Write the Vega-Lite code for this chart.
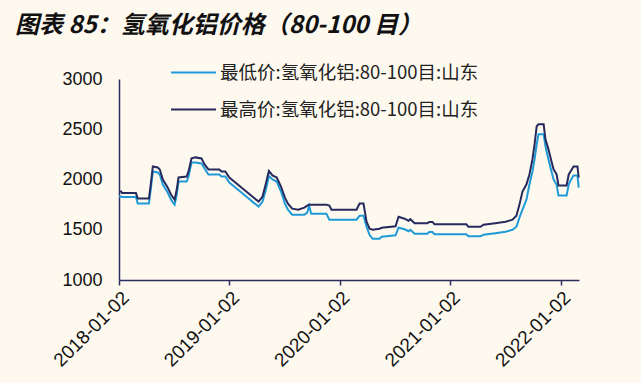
{
  "$schema": "https://vega.github.io/schema/vega-lite/v6.json",
  "width": 460,
  "height": 201,
  "autosize": {"type": "none"},
  "padding": {"left": 119, "top": 79, "right": 62, "bottom": 103},
  "background": "#FEF9EF",
  "title": {
    "text": "图表 85：氢氧化铝价格（80-100 目）",
    "font": "Noto Sans CJK SC",
    "fontSize": 24,
    "fontWeight": "bold",
    "fontStyle": "italic",
    "color": "#111111",
    "anchor": "start",
    "frame": "group",
    "baseline": "alphabetic",
    "dx": -104,
    "dy": 15,
    "offset": 7
  },
  "data": {
    "values": [
      {"d": "2018-01-02", "hi": 1880, "lo": 1830},
      {"d": "2018-01-09", "hi": 1880, "lo": 1830},
      {"d": "2018-01-12", "hi": 1865, "lo": 1825},
      {"d": "2018-02-27", "hi": 1865, "lo": 1825},
      {"d": "2018-03-05", "hi": 1810, "lo": 1760},
      {"d": "2018-04-11", "hi": 1810, "lo": 1760},
      {"d": "2018-04-17", "hi": 1950, "lo": 1900},
      {"d": "2018-04-24", "hi": 2130, "lo": 2080},
      {"d": "2018-05-10", "hi": 2120, "lo": 2070},
      {"d": "2018-05-17", "hi": 2100, "lo": 2050},
      {"d": "2018-05-27", "hi": 2000, "lo": 1950},
      {"d": "2018-06-12", "hi": 1920, "lo": 1870},
      {"d": "2018-06-25", "hi": 1840, "lo": 1790},
      {"d": "2018-07-05", "hi": 1800, "lo": 1750},
      {"d": "2018-07-12", "hi": 1900, "lo": 1850},
      {"d": "2018-07-18", "hi": 2020, "lo": 1980},
      {"d": "2018-08-14", "hi": 2030, "lo": 1980},
      {"d": "2018-08-20", "hi": 2080, "lo": 2030},
      {"d": "2018-08-30", "hi": 2210, "lo": 2170},
      {"d": "2018-09-12", "hi": 2220, "lo": 2170},
      {"d": "2018-10-02", "hi": 2210, "lo": 2160},
      {"d": "2018-10-12", "hi": 2150, "lo": 2110},
      {"d": "2018-10-25", "hi": 2100, "lo": 2050},
      {"d": "2018-11-30", "hi": 2100, "lo": 2050},
      {"d": "2018-12-07", "hi": 2080, "lo": 2030},
      {"d": "2018-12-20", "hi": 2080, "lo": 2030},
      {"d": "2019-01-02", "hi": 2020, "lo": 1970},
      {"d": "2019-01-22", "hi": 1970, "lo": 1920},
      {"d": "2019-02-11", "hi": 1920, "lo": 1870},
      {"d": "2019-03-03", "hi": 1870, "lo": 1820},
      {"d": "2019-03-23", "hi": 1820, "lo": 1770},
      {"d": "2019-04-09", "hi": 1780, "lo": 1730},
      {"d": "2019-04-22", "hi": 1830, "lo": 1780},
      {"d": "2019-05-03", "hi": 1960, "lo": 1900},
      {"d": "2019-05-13", "hi": 2085, "lo": 2035},
      {"d": "2019-05-25", "hi": 2040, "lo": 2000},
      {"d": "2019-06-08", "hi": 2020, "lo": 1980},
      {"d": "2019-06-22", "hi": 1930, "lo": 1880},
      {"d": "2019-07-05", "hi": 1820, "lo": 1760},
      {"d": "2019-07-15", "hi": 1760, "lo": 1700},
      {"d": "2019-07-29", "hi": 1710, "lo": 1650},
      {"d": "2019-08-18", "hi": 1700, "lo": 1650},
      {"d": "2019-09-07", "hi": 1720, "lo": 1650},
      {"d": "2019-09-17", "hi": 1740, "lo": 1670},
      {"d": "2019-09-23", "hi": 1750, "lo": 1740},
      {"d": "2019-09-30", "hi": 1750, "lo": 1660},
      {"d": "2019-11-19", "hi": 1750, "lo": 1660},
      {"d": "2019-11-29", "hi": 1740, "lo": 1600},
      {"d": "2019-12-06", "hi": 1700, "lo": 1600},
      {"d": "2020-02-27", "hi": 1700, "lo": 1600},
      {"d": "2020-03-08", "hi": 1760, "lo": 1640},
      {"d": "2020-03-21", "hi": 1760, "lo": 1640},
      {"d": "2020-03-31", "hi": 1580, "lo": 1530},
      {"d": "2020-04-10", "hi": 1510, "lo": 1450},
      {"d": "2020-04-20", "hi": 1500, "lo": 1410},
      {"d": "2020-05-13", "hi": 1510, "lo": 1410},
      {"d": "2020-05-20", "hi": 1520, "lo": 1430},
      {"d": "2020-07-05", "hi": 1535, "lo": 1445},
      {"d": "2020-07-15", "hi": 1630, "lo": 1520},
      {"d": "2020-08-04", "hi": 1610, "lo": 1505},
      {"d": "2020-08-17", "hi": 1590, "lo": 1485},
      {"d": "2020-08-23", "hi": 1605, "lo": 1500},
      {"d": "2020-09-06", "hi": 1565, "lo": 1460},
      {"d": "2020-10-18", "hi": 1565, "lo": 1460},
      {"d": "2020-10-25", "hi": 1578, "lo": 1478},
      {"d": "2020-11-04", "hi": 1578, "lo": 1478},
      {"d": "2020-11-11", "hi": 1555, "lo": 1455},
      {"d": "2021-02-24", "hi": 1555, "lo": 1455},
      {"d": "2021-03-03", "hi": 1530, "lo": 1435},
      {"d": "2021-04-12", "hi": 1530, "lo": 1435},
      {"d": "2021-04-22", "hi": 1550, "lo": 1450},
      {"d": "2021-05-31", "hi": 1565, "lo": 1465},
      {"d": "2021-07-04", "hi": 1580, "lo": 1480},
      {"d": "2021-07-27", "hi": 1600, "lo": 1500},
      {"d": "2021-08-09", "hi": 1640, "lo": 1530},
      {"d": "2021-08-19", "hi": 1750, "lo": 1620},
      {"d": "2021-08-29", "hi": 1880, "lo": 1700},
      {"d": "2021-09-11", "hi": 1950, "lo": 1800},
      {"d": "2021-09-21", "hi": 2050, "lo": 1950},
      {"d": "2021-10-01", "hi": 2200, "lo": 2080},
      {"d": "2021-10-08", "hi": 2350, "lo": 2200},
      {"d": "2021-10-15", "hi": 2530, "lo": 2350},
      {"d": "2021-10-21", "hi": 2550, "lo": 2450},
      {"d": "2021-11-07", "hi": 2550, "lo": 2450},
      {"d": "2021-11-13", "hi": 2400, "lo": 2330},
      {"d": "2021-11-23", "hi": 2300, "lo": 2200},
      {"d": "2021-12-03", "hi": 2180, "lo": 2080},
      {"d": "2021-12-10", "hi": 2100, "lo": 2000},
      {"d": "2021-12-20", "hi": 2050, "lo": 1950},
      {"d": "2021-12-26", "hi": 1940, "lo": 1840},
      {"d": "2022-01-22", "hi": 1940, "lo": 1840},
      {"d": "2022-01-29", "hi": 2050, "lo": 1950},
      {"d": "2022-02-04", "hi": 2080, "lo": 1990},
      {"d": "2022-02-14", "hi": 2130, "lo": 2040},
      {"d": "2022-02-27", "hi": 2130, "lo": 2040},
      {"d": "2022-03-03", "hi": 2020, "lo": 1920}
    ]
  },
  "transform": [{"fold": ["lo", "hi"], "as": ["s", "v"]}],
  "mark": {"type": "line", "strokeWidth": 2},
  "encoding": {
    "x": {
      "field": "d",
      "type": "temporal",
      "scale": {
        "type": "utc",
        "domain": [
          {"year": 2018, "month": 1, "date": 2, "utc": true},
          {"year": 2022, "month": 3, "date": 4, "utc": true}
        ]
      },
      "axis": {
        "title": null,
        "grid": false,
        "values": [
          {"year": 2018, "month": 1, "date": 2, "utc": true},
          {"year": 2019, "month": 1, "date": 2, "utc": true},
          {"year": 2020, "month": 1, "date": 2, "utc": true},
          {"year": 2021, "month": 1, "date": 2, "utc": true},
          {"year": 2022, "month": 1, "date": 2, "utc": true}
        ],
        "labelExpr": "utcFormat(datum.value, '%Y-%m-%d')",
        "labelAngle": -45,
        "labelFont": "Liberation Sans",
        "labelFontSize": 19,
        "labelColor": "#111111",
        "labelPadding": 3,
        "labelFlush": false,
        "labelOverlap": false,
        "domainColor": "#2B2D5E",
        "domainWidth": 1.5,
        "tickColor": "#2B2D5E",
        "tickWidth": 1.5,
        "tickSize": 5
      }
    },
    "y": {
      "field": "v",
      "type": "quantitative",
      "scale": {"domain": [1000, 3000]},
      "axis": {
        "title": null,
        "grid": false,
        "values": [1000, 1500, 2000, 2500, 3000],
        "format": "d",
        "ticks": false,
        "labelPadding": 17,
        "labelFont": "Liberation Sans",
        "labelFontSize": 18,
        "labelColor": "#111111",
        "domainColor": "#2B2D5E",
        "domainWidth": 1.5
      }
    },
    "color": {
      "field": "s",
      "type": "nominal",
      "sort": ["lo", "hi"],
      "scale": {"domain": ["lo", "hi"], "range": ["#1E9BD7", "#272A5E"]},
      "legend": {
        "title": null,
        "orient": "none",
        "legendX": 51,
        "legendY": -30,
        "direction": "vertical",
        "symbolType": "stroke",
        "symbolSize": 2025,
        "symbolStrokeWidth": 2,
        "labelFont": "Noto Sans CJK SC",
        "labelFontSize": 18.5,
        "labelColor": "#222222",
        "labelOffset": 3,
        "labelLimit": 400,
        "rowPadding": 4,
        "labelExpr": "datum.label == 'lo' ? '最低价:氢氧化铝:80-100目:山东' : '最高价:氢氧化铝:80-100目:山东'"
      }
    }
  },
  "config": {"view": {"stroke": null}}
}
